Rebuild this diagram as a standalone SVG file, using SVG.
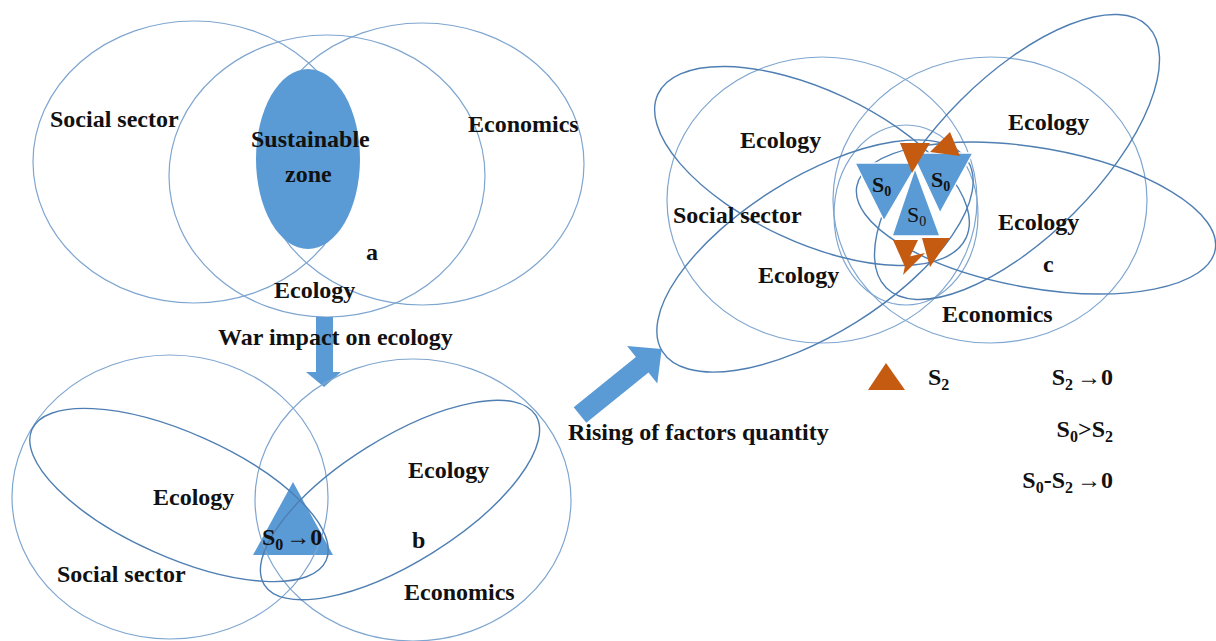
<svg xmlns="http://www.w3.org/2000/svg" width="1216" height="641" viewBox="0 0 1216 641">
  <style>
    .ring { fill: none; stroke: #7fa6d0; stroke-width: 1.2; }
    .loop { fill: none; stroke: #4f7fb2; stroke-width: 1.4; }
    .blue { fill: #5b9bd5; }
    .orange { fill: #c55a11; }
    .lbl { font-family: "Liberation Serif", "Times New Roman", serif; font-weight: bold; font-size: 24px; fill: #111; }
    .sub { font-size: 16px; }
    .tri { font-family: "Liberation Serif", "Times New Roman", serif; font-size: 22px; fill: #111; }
  </style>

  <!-- panel a: three sectors with the sustainable zone -->
  <g id="panel-a">
    <ellipse class="ring" cx="194" cy="162" rx="161" ry="141"/>
    <ellipse class="ring" cx="327" cy="176" rx="158" ry="141"/>
    <ellipse class="ring" cx="422" cy="164" rx="162" ry="141"/>
    <ellipse id="sustainable-zone" class="blue" cx="308" cy="159" rx="52" ry="90"/>
    <text class="lbl" x="50" y="127">Social sector</text>
    <text class="lbl" x="251" y="147">Sustainable</text>
    <text class="lbl" x="285" y="182">zone</text>
    <text class="lbl" x="468" y="132">Economics</text>
    <text class="lbl" x="366" y="260">a</text>
    <text class="lbl" x="274" y="298">Ecology</text>
  </g>

  <!-- transitions between panels -->
  <g id="connectors">
    <polygon class="blue" points="316,317 333,317 333,372 341,372 324,387 306,372 316,372"/>
    <polygon class="blue" points="573.7,407.2 635.9,357 627.1,346.1 661.7,349.1 657.3,383.5 648.5,372.6 586.3,422.8"/>
    <text class="lbl" x="218" y="345">War impact on ecology</text>
    <text class="lbl" x="568" y="440">Rising of factors quantity</text>
  </g>

  <!-- panel b: ecology squeezed by war -->
  <g id="panel-b">
    <polygon class="blue" points="293,482 333,555 253,555"/>
    <ellipse class="ring" cx="170" cy="497" rx="158" ry="142"/>
    <ellipse class="ring" cx="413" cy="500" rx="158" ry="141"/>
    <ellipse class="loop" cx="179" cy="495" rx="161" ry="62" transform="rotate(24 179 495)"/>
    <ellipse class="loop" cx="400" cy="500" rx="160" ry="62" transform="rotate(-32 400 500)"/>
    <text class="lbl" x="262" y="545">S<tspan class="sub" dy="5">0</tspan><tspan dy="-5" dx="3">→0</tspan></text>
    <text class="lbl" x="153" y="505">Ecology</text>
    <text class="lbl" x="408" y="478">Ecology</text>
    <text class="lbl" x="412" y="548">b</text>
    <text class="lbl" x="57" y="582">Social sector</text>
    <text class="lbl" x="404" y="600">Economics</text>
  </g>

  <!-- panel c: more factors around the shrinking zone -->
  <g id="panel-c">
    <ellipse class="ring" cx="822" cy="200" rx="155" ry="143"/>
    <ellipse class="ring" cx="990" cy="200" rx="157" ry="143"/>
    <ellipse class="ring" cx="906" cy="215" rx="72" ry="90"/>
    <ellipse class="loop" cx="812" cy="166" rx="170" ry="76" transform="rotate(25 812 166)"/>
    <ellipse class="loop" cx="1036" cy="218" rx="182" ry="70" transform="rotate(10 1036 218)"/>
    <ellipse class="loop" cx="815" cy="256" rx="180" ry="78" transform="rotate(-32 815 256)"/>
    <ellipse class="loop" cx="1017" cy="157" rx="185" ry="80" transform="rotate(-45 1017 157)"/>

    <g id="zones" stroke="#fff" stroke-width="1.5">
      <polygon class="blue" points="855,163 918,163 884,221"/>
      <polygon class="blue" points="912,153 973,153 940,213"/>
      <polygon class="blue" points="915,168 940,236 892,236"/>
      <polygon class="orange" stroke="none" points="900,143 930,143 912,173"/>
      <polygon class="orange" stroke="none" points="930,152 950,132 960,156"/>
      <polygon class="orange" stroke="none" points="893,240 918,240 905,267"/>
      <polygon class="orange" stroke="none" points="922,238 950,238 930,267"/>
      <polygon class="orange" stroke="none" points="907,257 925,253 903,275"/>
    </g>
    <text class="tri" font-weight="bold" x="872" y="192">S<tspan font-size="14" dy="4">0</tspan></text>
    <text class="tri" font-weight="bold" x="931" y="187">S<tspan font-size="14" dy="4">0</tspan></text>
    <text class="tri" x="907" y="222">S<tspan font-size="14" dy="4">0</tspan></text>

    <text class="lbl" x="740" y="148">Ecology</text>
    <text class="lbl" x="1008" y="130">Ecology</text>
    <text class="lbl" x="673" y="223">Social sector</text>
    <text class="lbl" x="758" y="283">Ecology</text>
    <text class="lbl" x="998" y="230">Ecology</text>
    <text class="lbl" x="1043" y="272">c</text>
    <text class="lbl" x="942" y="322">Economics</text>
  </g>

  <!-- legend -->
  <g id="legend">
    <polygon class="orange" points="868,390 905,390 886,363"/>
    <text class="lbl" x="928" y="385">S<tspan class="sub" dy="5">2</tspan></text>
    <text class="lbl" x="1113" y="385" text-anchor="end">S<tspan class="sub" dy="5">2</tspan><tspan dy="-5" dx="4">→0</tspan></text>
    <text class="lbl" x="1113" y="437" text-anchor="end">S<tspan class="sub" dy="5">0</tspan><tspan dy="-5">&gt;S</tspan><tspan class="sub" dy="5">2</tspan></text>
    <text class="lbl" x="1113" y="488" text-anchor="end">S<tspan class="sub" dy="5">0</tspan><tspan dy="-5">-S</tspan><tspan class="sub" dy="5">2</tspan><tspan dy="-5" dx="4">→0</tspan></text>
  </g>
</svg>
